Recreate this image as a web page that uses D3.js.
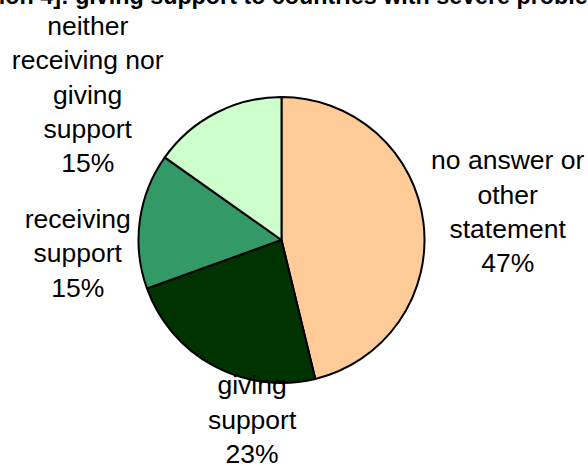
<!DOCTYPE html>
<html>
<head>
<meta charset="utf-8">
<script src="https://cdn.jsdelivr.net/npm/d3@7"></script>
<style>
    body { margin: 0; background: #fff; }
    svg { display: block; font-family: "Liberation Sans", Arial, sans-serif; }
</style>
</head>
<body>
<div id="chart"></div>
<script>
const categories = ['no answer or other statement', 'giving support', 'receiving support', 'neither receiving nor giving support']
const values = [46.2, 23.3, 15.3, 15.2]
const pctLabels = ['47%', '23%', '15%', '15%']
const labelLines = [
    ['no answer or', 'other', 'statement'],
    ['giving', 'support'],
    ['receiving', 'support'],
    ['neither', 'receiving nor', 'giving', 'support']
]
const colors = ['#FFCC99', '#003300', '#339966', '#CCFFCC']
const title = '[Question 4]: giving support to countries with severe problems'

const width = 588
const height = 466
const cx = 281.5
const cy = 240
const radius = 143
const lineGap = 34.3
// label nudges relative to slice mid angle (deg) and distance from centre
const labelLayout = [[2, 227], [-19.4, 191], [-14, 205], [-27.5, 237]]

const svg = d3.select('#chart').append('svg')
    .attr('width', width).attr('height', height)

svg.append('text')
    .attr('x', -75).attr('y', 4)
    .style('font-weight', 'bold')
    .style('font-size', '23.3px')
    .text(title)

const pie = d3.pie().sort(null).value(d => d)
const arcs = pie(values)
const arc = d3.arc().innerRadius(0).outerRadius(radius)

const g = svg.append('g').attr('transform', `translate(${cx},${cy})`)

g.selectAll('path')
    .data(arcs)
    .join('path')
    .attr('d', arc)
    .attr('fill', (d, i) => colors[i])
    .attr('stroke', '#000')
    .attr('stroke-width', 2)
    .attr('stroke-linejoin', 'round')

const labels = g.selectAll('.label')
    .data(arcs)
    .join('text').attr('class', 'label')
    .style('font-size', '26.5px')
    .attr('text-anchor', 'middle')
    .attr('fill', '#000')

labels.each(function (d, i) {
    const mid = (d.startAngle + d.endAngle) / 2 + labelLayout[i][0] * Math.PI / 180
    const dist = labelLayout[i][1]
    const x = dist * Math.sin(mid)
    const y = -dist * Math.cos(mid)
    const lines = labelLines[i].concat([pctLabels[i]])
    const n = lines.length
    d3.select(this).selectAll('tspan')
        .data(lines)
        .join('tspan')
        .attr('x', x)
        .attr('y', (l, j) => y + (j - (n - 1) / 2) * lineGap)
        .text(l => l)
})
</script>
</body>
</html>
